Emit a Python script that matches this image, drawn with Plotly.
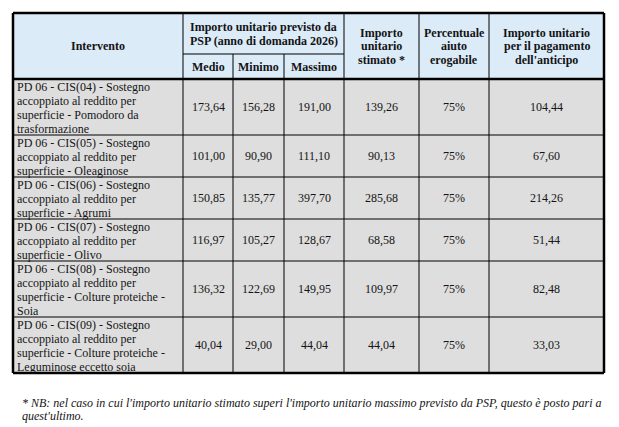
import plotly.graph_objects as go

# --- data -------------------------------------------------------------
interventi = [
    "PD 06 - CIS(04) - Sostegno<br>accoppiato al reddito per<br>superficie - Pomodoro da<br>trasformazione",
    "PD 06 - CIS(05) - Sostegno<br>accoppiato al reddito per<br>superficie - Oleaginose",
    "PD 06 - CIS(06) - Sostegno<br>accoppiato al reddito per<br>superficie - Agrumi",
    "PD 06 - CIS(07) - Sostegno<br>accoppiato al reddito per<br>superficie - Olivo",
    "PD 06 - CIS(08) - Sostegno<br>accoppiato al reddito per<br>superficie - Colture proteiche -<br>Soia",
    "PD 06 - CIS(09) - Sostegno<br>accoppiato al reddito per<br>superficie - Colture proteiche -<br>Leguminose eccetto soia",
]
medio = [173.64, 101.00, 150.85, 116.97, 136.32, 40.04]
minimo = [156.28, 90.90, 135.77, 105.27, 122.69, 29.00]
massimo = [191.00, 111.10, 397.70, 128.67, 149.95, 44.04]
stimato = [139.26, 90.13, 285.68, 68.58, 109.97, 44.04]
percentuale = [75, 75, 75, 75, 75, 75]
anticipo = [104.44, 67.60, 214.26, 51.44, 82.48, 33.03]

header_top = "Importo unitario previsto da<br>PSP (anno di domanda 2026)"
header_sub = ["Medio", "Minimo", "Massimo"]
header_cols = [
    "Intervento",
    "Importo<br>unitario<br>stimato *",
    "Percentuale<br>aiuto<br>erogabile",
    "Importo unitario<br>per il pagamento<br>dell'anticipo",
]
nota = ("* NB: nel caso in cui l'importo unitario stimato superi l'importo unitario "
        "massimo previsto da PSP, questo è posto pari a<br>quest'ultimo.")

# --- layout constants -------------------------------------------------
W, H = 619, 427
col_x = [13, 183, 233, 284, 344, 419, 489, 604]
y_top, y_split, y_head = 13, 54, 79
line_h = 14
head_fill = "#dcebf8"
body_fill = "#dedede"
ink = "#141414"
serif = "Liberation Serif"


def fmt(v):
    return f"{v:.2f}".replace(".", ",")


fig = go.Figure()
shapes = []
annotations = []


def rect(x0, x1, y0, y1, color):
    shapes.append(dict(type="rect", xref="x", yref="y", x0=x0, x1=x1, y0=y0, y1=y1,
                       fillcolor=color, line=dict(width=0), layer="below"))


def line(x0, x1, y0, y1, w=1):
    shapes.append(dict(type="line", xref="x", yref="y", x0=x0, x1=x1, y0=y0, y1=y1,
                       line=dict(color="#000000", width=w)))


def text(s, x, yc, spacing, bold=False, anchor="center", size=12):
    parts = s.split("<br>")
    n = len(parts)
    for i, p in enumerate(parts):
        y = yc + (i - (n - 1) / 2) * spacing
        annotations.append(dict(
            x=x, y=y, xref="x", yref="y", text=f"<b>{p}</b>" if bold else p,
            showarrow=False, xanchor=anchor, yanchor="middle",
            font=dict(family=serif, size=size, color=ink)))


# row boundaries from number of lines in the first column
row_y = [y_head]
for t in interventi:
    row_y.append(row_y[-1] + line_h * len(t.split("<br>")))
y_bot = row_y[-1]

# fills
rect(col_x[0], col_x[-1], y_top, y_head, head_fill)
rect(col_x[0], col_x[-1], y_head, y_bot, body_fill)

# header texts
hc = (y_top + y_head) / 2
text(header_cols[0], (col_x[0] + col_x[1]) / 2, hc, 13.5, bold=True)
text(header_top, (col_x[1] + col_x[4]) / 2, (y_top + y_split) / 2, 14, bold=True)
for k, s in enumerate(header_sub):
    text(s, (col_x[1 + k] + col_x[2 + k]) / 2, (y_split + y_head) / 2, 14, bold=True)
for k, s in enumerate(header_cols[1:]):
    text(s, (col_x[4 + k] + col_x[5 + k]) / 2, hc, 13.5, bold=True)

# body texts
columns = [medio, minimo, massimo, stimato, percentuale, anticipo]
for r, t in enumerate(interventi):
    y0, y1 = row_y[r], row_y[r + 1]
    text(t, col_x[0] + 1.5, (y0 + y1) / 2 + 1, line_h, anchor="left")
    for c, vals in enumerate(columns):
        v = vals[r]
        s = f"{v}%" if vals is percentuale else fmt(v)
        text(s, (col_x[1 + c] + col_x[2 + c]) / 2, (y0 + y1) / 2, line_h)

# grid lines
for y in row_y[1:-1]:
    line(col_x[0], col_x[-1], y, y)
line(col_x[1], col_x[4], y_split, y_split)
for k, x in enumerate(col_x[1:-1]):
    start = y_split if k + 1 in (2, 3) else y_top
    line(x, x, start, y_bot)
line(col_x[0], col_x[-1], y_head, y_head, 2.5)
# outer border
line(col_x[0], col_x[-1], y_top, y_top, 2.5)
line(col_x[0], col_x[-1], y_bot, y_bot, 2.5)
line(col_x[0], col_x[0], y_top, y_bot, 2.5)
line(col_x[-1], col_x[-1], y_top, y_bot, 2.5)

# footnote
for i, p in enumerate(nota.split("<br>")):
    annotations.append(dict(
        x=20, y=403 + i * 13, xref="x", yref="y", text=f"<i>{p}</i>",
        showarrow=False, xanchor="left", yanchor="middle",
        font=dict(family=serif, size=12, color=ink)))

fig.update_layout(
    width=W, height=H,
    margin=dict(l=0, r=0, t=0, b=0),
    paper_bgcolor="white", plot_bgcolor="white",
    xaxis=dict(range=[0, W], visible=False, fixedrange=True),
    yaxis=dict(range=[H, 0], visible=False, fixedrange=True),
    shapes=shapes, annotations=annotations,
    showlegend=False,
)

# the page body has a default 8px margin; drop it so the figure fills the window
fig.write_html("out.html", config={"displayModeBar": False},
               post_script="document.body.style.margin='0';document.body.style.overflow='hidden';")
